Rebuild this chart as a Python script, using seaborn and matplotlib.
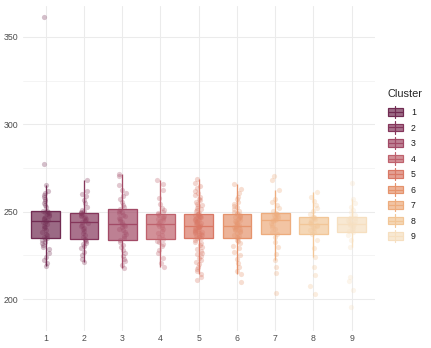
import matplotlib
matplotlib.use("Agg")
import matplotlib.pyplot as plt
import numpy as np
import pandas as pd
import seaborn as sns
from matplotlib.colors import to_rgba
from matplotlib.lines import Line2D
from matplotlib.patches import Patch, Rectangle
from matplotlib.legend_handler import HandlerBase
from matplotlib.ticker import MultipleLocator

clusters = ["1", "2", "3", "4", "5", "6", "7", "8", "9"]
colors = ["#712b52", "#85365b", "#a24a66", "#bf626d", "#d97865",
          "#e5936c", "#edac7d", "#f2c697", "#f6dfc0"]

c1 = [218.8, 220.5, 222.3, 224.0, 226.1, 228.5, 229.7, 230.9, 231.8, 232.6, 233.5, 234.2,
      234.8, 235.6, 236.4, 237.3, 238.5, 239.6, 240.4, 241.2, 242.0, 242.9, 243.6, 244.1,
      244.4, 245.2, 245.9, 246.5, 247.1, 247.6, 248.2, 248.8, 249.3, 249.6, 249.9, 250.1,
      250.3, 252.4, 253.6, 254.9, 256.0, 257.3, 258.5, 259.7, 260.8, 262.0, 265.2, 277.3, 361.5]
c2 = [221.0, 222.8, 225.4, 227.1, 229.0, 230.6, 231.5, 232.3, 233.0, 233.8, 234.4,
      235.3, 236.5, 237.6, 238.7, 239.8, 240.9, 241.8, 242.6, 243.3, 244.0,
      244.6, 245.3, 246.0, 246.6, 247.2, 247.7, 248.2, 248.6, 249.0, 249.3,
      249.8, 250.4, 251.0, 252.5, 254.8, 256.9, 258.7, 260.3, 262.0, 268.4]
c3 = [217.5, 219.6, 221.8, 223.0, 224.5, 226.3, 228.0, 229.7, 231.2, 232.6, 233.7,
      234.8, 236.0, 237.2, 238.3, 239.4, 240.3, 241.1, 241.9, 242.6, 243.2,
      244.0, 244.9, 245.8, 246.6, 247.4, 248.2, 249.0, 249.8, 250.6, 251.3,
      252.5, 254.0, 255.8, 257.4, 258.9, 260.5, 262.3, 265.0, 270.2, 271.5]
c4 = [218.4, 220.9, 223.6, 226.2, 228.3, 230.1, 231.7, 232.6, 233.4, 234.1,
      235.4, 236.8, 238.0, 239.2, 240.3, 241.2, 241.9, 242.5, 243.0,
      243.7, 244.4, 245.1, 245.8, 246.5, 247.1, 247.6, 248.1, 248.6,
      249.2, 249.9, 250.7, 252.0, 254.3, 258.1, 262.6, 266.0, 268.4]
c5 = [210.8, 212.5, 214.6, 215.9, 217.3, 218.6, 219.8, 221.0, 222.1, 223.3,
      224.4, 225.5, 226.6, 227.6, 228.7, 229.7, 230.8, 231.9, 232.9, 233.9, 234.8,
      235.2, 235.6, 236.0, 236.4, 236.8, 237.2, 237.6, 238.0, 238.3, 238.6,
      238.9, 239.2, 239.6, 240.0, 240.4, 240.7, 241.0, 241.2, 241.5, 241.7,
      242.0, 242.4, 242.8, 243.2, 243.5, 243.9, 244.3, 244.7, 245.0, 245.4,
      245.7, 246.0, 246.4, 246.7, 247.0, 247.3, 247.6, 247.9, 248.2, 248.4,
      248.9, 249.5, 250.1, 250.8, 251.5, 252.2, 253.0, 253.8, 254.6, 255.5,
      256.4, 257.4, 258.5, 259.6, 260.8, 262.0, 263.3, 264.7, 266.5, 268.5]
c6 = [209.8, 214.6, 216.2, 218.5, 220.8, 222.9, 225.0, 227.1, 229.0, 230.6, 232.0, 233.1, 234.0,
      234.8, 235.5, 236.2, 236.9, 237.6, 238.2, 238.8, 239.3, 239.8, 240.3, 240.8, 241.2, 241.5,
      241.7, 242.2, 242.8, 243.4, 244.0, 244.6, 245.2, 245.7, 246.2, 246.7, 247.2, 247.6, 248.0,
      248.4, 249.0, 249.8, 250.6, 251.5, 252.4, 253.4, 254.5, 255.7, 257.0, 258.6, 260.4, 263.0, 266.0]
c7 = [203.4, 214.8, 218.2, 222.2, 226.0, 229.5, 232.8, 235.6, 237.5,
      238.6, 239.8, 241.0, 242.3, 243.5, 244.4, 245.0, 245.5,
      246.0, 246.5, 247.0, 247.5, 248.0, 248.5, 248.9, 249.3,
      250.5, 252.3, 254.0, 255.6, 257.5, 262.3, 268.0, 270.2]
c8 = [203.0, 207.5, 214.0, 218.5, 224.0, 229.0, 233.5, 237.5,
      238.5, 239.6, 240.6, 241.4, 242.0, 242.5, 242.8,
      243.4, 244.2, 245.0, 245.7, 246.3, 246.8, 247.2,
      248.5, 250.2, 252.0, 254.0, 256.0, 258.5, 261.5]
c9 = [195.5, 205.0, 210.5, 212.7, 229.8, 234.0, 236.5, 238.3,
      239.2, 240.1, 240.9, 241.6, 242.3, 242.8, 243.2,
      243.7, 244.3, 244.9, 245.5, 246.1, 246.6, 247.0,
      248.2, 249.6, 251.0, 252.7, 254.9, 257.0, 266.5]
values = [c1, c2, c3, c4, c5, c6, c7, c8, c9]


class BoxKey(HandlerBase):
    # ggplot-like boxplot legend key: whisker, box, median
    def create_artists(self, legend, orig_handle, xdescent, ydescent, width, height, fontsize, trans):
        col = orig_handle.get_edgecolor()
        x0, y0 = -xdescent, -ydescent
        whisk = Line2D([x0 + width / 2] * 2, [y0 - 0.3 * height, y0 + 1.3 * height],
                       color=col, lw=1.2, transform=trans)
        box = Rectangle((x0, y0), width, height, facecolor=orig_handle.get_facecolor(),
                        edgecolor=col, lw=1.2, transform=trans)
        med = Line2D([x0, x0 + width], [y0 + height / 2] * 2, color=col, lw=1.2, transform=trans)
        return [whisk, box, med]


sns.set_style("white")
plt.rcParams["font.family"] = ["Liberation Sans", "DejaVu Sans"]

fig = plt.figure(figsize=(431 / 72, 348 / 72), dpi=72)
ax = fig.add_axes([22.75 / 431, 1 - 331 / 348, (374.6 - 22.75) / 431, (331 - 5.5) / 348])

np.random.seed(3)
for lab, vals, col in zip(clusters, values, colors):
    df = pd.DataFrame({"cluster": [lab] * len(vals), "value": vals})
    sns.boxplot(data=df, x="cluster", y="value", order=clusters, ax=ax,
                width=0.75, saturation=1, showfliers=False, showcaps=False,
                color=col, linecolor=col, linewidth=1.3,
                boxprops=dict(facecolor=to_rgba(col, 0.7)))
for lab, vals, col in zip(clusters, values, colors):
    df = pd.DataFrame({"cluster": [lab] * len(vals), "value": vals})
    sns.stripplot(data=df, x="cluster", y="value", order=clusters, ax=ax,
                  color=col, jitter=0.1, size=5.2, alpha=0.3, linewidth=0)

ax.set_xlim(-0.6, 8.6)
ax.set_ylim(181.7, 368.0)
ax.set_yticks([200, 250, 300, 350])
ax.yaxis.set_minor_locator(MultipleLocator(25))
ax.set_axisbelow(True)
ax.grid(which="major", color="#ebebeb", lw=1.07)
ax.grid(which="minor", axis="y", color="#ebebeb", lw=0.55)
ax.grid(which="minor", axis="x", visible=False)
for s in ax.spines.values():
    s.set_visible(False)
ax.tick_params(which="both", length=0, labelsize=8.8, labelcolor="#4d4d4d")
ax.tick_params(axis="y", pad=4.4)
ax.tick_params(axis="x", pad=3)
ax.set_xlabel("")
ax.set_ylabel("")

handles = [Patch(facecolor=to_rgba(c, 0.7), edgecolor=c) for c in colors]
leg = fig.legend(handles, clusters, title="Cluster", loc="upper left",
                 bbox_to_anchor=(388 / 431, 1 - 89 / 348), frameon=False,
                 fontsize=8.8, title_fontsize=11, alignment="left",
                 handlelength=1.7, handleheight=0.95, labelspacing=0.74,
                 handletextpad=0.9, borderpad=0, borderaxespad=0,
                 handler_map={Patch: BoxKey()})
leg._legend_box.sep = 9
for t in leg.get_texts():
    t.set_color("#1a1a1a")

fig.savefig("out.png", dpi=72)
